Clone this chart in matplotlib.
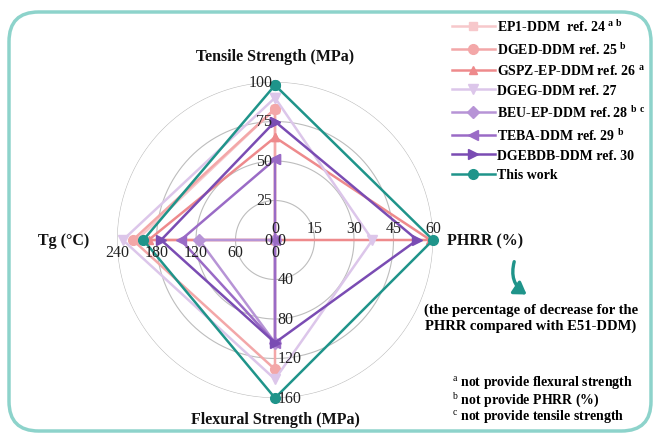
import numpy as np
import matplotlib
matplotlib.use('Agg')
import matplotlib.pyplot as plt
from matplotlib.patches import FancyBboxPatch, FancyArrowPatch

plt.rcParams['font.family'] = ['Liberation Serif', 'DejaVu Serif']
plt.rcParams['mathtext.fontset'] = 'custom'
plt.rcParams['mathtext.rm'] = 'Liberation Serif'
plt.rcParams['mathtext.bf'] = 'Liberation Serif:bold'

# axis order: tensile (top), PHRR (right), flexural (bottom), Tg (left)
axis_names = ['Tensile Strength (MPa)', 'PHRR (%)', 'Flexural Strength (MPa)', 'Tg (°C)']
axis_max = [100, 60, 160, 240]
tensile_ticks = [0, 25, 50, 75, 100]
phrr_ticks = [0, 15, 30, 45, 60]
flexural_ticks = [0, 40, 80, 120, 160]
tg_ticks = [0, 60, 120, 180, 240]

labels = [r'EP1-DDM  ref. 24 $^{\mathbf{a\ b}}$',
          r'DGED-DDM ref. 25 $^{\mathbf{b}}$',
          r'GSPZ-EP-DDM ref. 26 $^{\mathbf{a}}$',
          'DGEG-DDM ref. 27',
          r'BEU-EP-DDM ref. 28 $^{\mathbf{b\ c}}$',
          r'TEBA-DDM ref. 29 $^{\mathbf{b}}$',
          'DGEBDB-DDM ref. 30',
          'This work']

ep1 = [83, 0, 0, 210]
dged = [83, 0, 131, 216]
gspz = [65, 59, 0, 192]
dgeg = [90, 37, 141, 231]
beu = [0, 0, 104, 115]
teba = [51, 0, 104, 143]
dgebdb = [75, 54, 104, 173]
this_work = [98, 60, 160, 200]
series = [ep1, dged, gspz, dgeg, beu, teba, dgebdb, this_work]

colors = ['#f7c8cb', '#f3a7a8', '#ee8a8c', '#dcc6ea', '#b794d6', '#9a6bc6', '#7a4cb3', '#1f948a']
markers = ['s', 'o', '^', 'v', 'D', '<', '>', 'o']
msizes = [6, 7, 6, 7, 6, 7, 7, 7]

fig = plt.figure(figsize=(6.57, 4.35), dpi=100)

# rounded frame
frame = FancyBboxPatch((9 / 657, 3 / 435), 642 / 657, 419 / 435,
                       boxstyle='round,pad=0,rounding_size=0.045',
                       transform=fig.transFigure, facecolor='none',
                       edgecolor='#8dd3cb', linewidth=2.5, mutation_aspect=657 / 435)
fig.patches.append(frame)

cx, cy, R = 275, 241, 158
ax = fig.add_axes([(cx - R) / 657, (435 - cy - R) / 435, 2 * R / 657, 2 * R / 435], polar=True)
ax.set_theta_zero_location('N')
ax.set_theta_direction(-1)
ax.set_ylim(0, 1)
ax.set_xticks([])
ax.set_yticks([])
ax.grid(False)
ax.spines['polar'].set_visible(False)
ax.patch.set_alpha(0)

# rings
t = np.linspace(0, 2 * np.pi, 400)
for r in [0.25, 0.5, 0.75, 1.0]:
    ax.plot(t, np.full_like(t, r), color='#bdbdbd', lw=0.8, zorder=1)

angles = np.array([0, np.pi / 2, np.pi, 3 * np.pi / 2])
handles = []
for vals, c, m, ms, lab in zip(series, colors, markers, msizes, labels):
    r = np.array(vals) / np.array(axis_max)
    th = np.append(angles, angles[0])
    rr = np.append(r, r[0])
    h, = ax.plot(th, rr, color=c, lw=1.8, marker=m, markersize=ms,
                 markeredgecolor=c, clip_on=False, zorder=3, label=lab)
    handles.append(h)

# tick labels along each axis
tk = dict(fontsize=11.5, color='#222222', textcoords='offset points', annotation_clip=False)
for v in tensile_ticks:
    ax.annotate(str(v), (0, v / 100), xytext=(-2, 0), ha='right', va='center', **tk)
for v in phrr_ticks:
    ax.annotate(str(v), (np.pi / 2, v / 60), xytext=(0, 3), ha='center', va='bottom', **tk)
for v in flexural_ticks:
    ax.annotate(str(v), (np.pi, v / 160), xytext=(2, 0), ha='left', va='center', **tk)
for v in tg_ticks:
    ax.annotate(str(v), (3 * np.pi / 2, v / 240), xytext=(0, -3), ha='center', va='top', **tk)

# axis titles
bold = dict(fontsize=11.5, fontweight='bold', color='#111111')
fig.text(cx / 657, 1 - 57 / 435, axis_names[0], ha='center', va='center', **bold)
fig.text(447 / 657, 1 - 241 / 435, axis_names[1], ha='left', va='center', **bold)
fig.text(cx / 657, 1 - 420 / 435, axis_names[2], ha='center', va='center', **bold)
fig.text(64 / 657, 1 - 241 / 435, axis_names[3], ha='center', va='center', **bold)

fig.legend(handles=handles, loc='upper left', bbox_to_anchor=(446 / 657, 1 - 13 / 435),
           frameon=False, handlelength=3.1, handletextpad=0.2, labelspacing=0.45,
           borderaxespad=0, prop={'family': 'Liberation Serif', 'weight': 'bold', 'size': 10})

# curved arrow to the PHRR note
arrow = FancyArrowPatch((515 / 657, 1 - 260 / 435), (529 / 657, 1 - 297 / 435),
                        transform=fig.transFigure, connectionstyle='arc3,rad=0.4',
                        arrowstyle='-|>,head_length=7,head_width=4.5', color='#1f948a',
                        lw=2.4, mutation_scale=1)
fig.patches.append(arrow)

fig.text(531 / 657, 1 - 318 / 435,
         '(the percentage of decrease for the\nPHRR compared with E51-DDM)',
         ha='center', va='center', fontsize=10.5, fontweight='bold', linespacing=1.2)

notes = [r'$^{\mathrm{a}}$ not provide flexural strength',
         r'$^{\mathrm{b}}$ not provide PHRR (%)',
         r'$^{\mathrm{c}}$ not provide tensile strength']
for i, n in enumerate(notes):
    fig.text(452 / 657, 1 - (383 + i * 17) / 435, n, ha='left', va='center',
             fontsize=10, fontweight='bold')

fig.savefig('out.png', dpi=100)
